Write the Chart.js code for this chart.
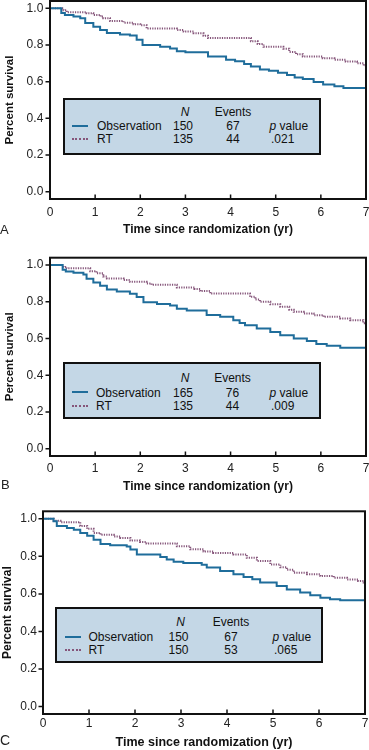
<!DOCTYPE html>
<html lang="en">
<head>
<meta charset="UTF-8">
<title>Survival curves</title>
<script src="https://cdn.jsdelivr.net/npm/chart.js"></script>
<style>
  body { margin: 0; background: #fff; font-family: "Liberation Sans", Arial, sans-serif; }
  #page { position: relative; width: 369px; height: 750px; overflow: hidden; }
  #page canvas { position: absolute; left: 0; }
  .legend { position: absolute; background: #c4d7e6; border: 2px solid #111; box-sizing: border-box; }
  .lt { position: absolute; font-size: 12px; line-height: 14px; color: #111; white-space: nowrap; }
  .sample { position: absolute; height: 0; }
  .letter { position: absolute; color: #222; line-height: 15px; }
</style>
</head>
<body>
<div id="page">
  <canvas id="chartA" width="369" height="250" style="top:0"></canvas>
  <canvas id="chartB" width="369" height="250" style="top:250px"></canvas>
  <canvas id="chartC" width="369" height="250" style="top:500px"></canvas>
</div>
<script>
// axis ticks
const xTicks = [0, 1, 2, 3, 4, 5, 6, 7];
const yTicks = [0, 0.2, 0.4, 0.6, 0.8, 1.0];

// panel A: time (yr) / survival
const obsA_t = [0, 0.25, 0.33, 0.52, 0.67, 0.78, 0.96, 1.11, 1.26, 1.55, 1.77, 1.92, 2.05, 2.44, 2.66, 2.81, 3.0, 3.5, 3.9, 4.1, 4.3, 4.45, 4.65, 4.85, 5.05, 5.25, 5.42, 5.6, 5.84, 6.05, 6.3, 6.5, 7.0];
const obsA_s = [1, 0.975, 0.964, 0.955, 0.946, 0.92, 0.90, 0.882, 0.865, 0.857, 0.852, 0.828, 0.80, 0.79, 0.781, 0.766, 0.76, 0.737, 0.72, 0.712, 0.697, 0.683, 0.667, 0.66, 0.648, 0.637, 0.623, 0.614, 0.598, 0.585, 0.575, 0.565, 0.565];
const rtA_t = [0, 0.3, 0.37, 0.81, 0.96, 1.12, 1.18, 1.33, 1.63, 1.85, 2.0, 2.14, 2.81, 2.96, 3.18, 3.4, 3.5, 4.45, 4.6, 4.73, 5.17, 5.3, 5.45, 5.6, 6.04, 6.3, 6.55, 6.8, 6.95, 7.0];
const rtA_s = [1, 0.99, 0.979, 0.973, 0.964, 0.955, 0.946, 0.931, 0.922, 0.913, 0.908, 0.89, 0.882, 0.873, 0.864, 0.85, 0.838, 0.82, 0.805, 0.79, 0.78, 0.762, 0.75, 0.737, 0.728, 0.72, 0.71, 0.70, 0.688, 0.68];

// panel B
const obsB_t = [0, 0.28, 0.35, 0.52, 0.74, 0.81, 0.96, 1.11, 1.26, 1.48, 1.77, 1.92, 2.07, 2.37, 2.66, 2.81, 3.03, 3.47, 3.77, 4.06, 4.2, 4.32, 4.58, 4.88, 5.1, 5.4, 5.69, 5.9, 6.13, 6.43, 7.0];
const obsB_s = [1, 0.975, 0.965, 0.958, 0.948, 0.925, 0.905, 0.887, 0.867, 0.856, 0.844, 0.826, 0.797, 0.788, 0.779, 0.762, 0.752, 0.728, 0.718, 0.70, 0.685, 0.672, 0.655, 0.636, 0.618, 0.60, 0.586, 0.57, 0.56, 0.55, 0.55];
const rtB_t = [0, 0.3, 0.37, 0.89, 1.03, 1.18, 1.26, 1.63, 1.77, 2.14, 2.25, 2.81, 3.2, 3.33, 3.55, 4.43, 4.55, 4.65, 4.88, 5.1, 5.3, 5.4, 5.62, 5.84, 6.06, 6.43, 6.65, 6.94, 7.0];
const rtB_s = [1, 0.99, 0.982, 0.966, 0.955, 0.937, 0.927, 0.918, 0.909, 0.9, 0.893, 0.878, 0.87, 0.858, 0.845, 0.827, 0.812, 0.8, 0.786, 0.773, 0.757, 0.745, 0.736, 0.727, 0.718, 0.709, 0.70, 0.683, 0.678];

// panel C
const obsC_t = [0, 0.23, 0.3, 0.52, 0.67, 0.81, 0.96, 1.1, 1.25, 1.46, 1.82, 1.9, 2.04, 2.55, 2.69, 2.84, 3.05, 3.45, 3.56, 3.85, 4.14, 4.36, 4.55, 4.72, 5.08, 5.3, 5.59, 5.81, 6.03, 6.24, 6.46, 7.0];
const obsC_s = [1, 0.987, 0.962, 0.951, 0.942, 0.925, 0.91, 0.888, 0.866, 0.859, 0.853, 0.836, 0.81, 0.796, 0.783, 0.771, 0.765, 0.755, 0.74, 0.722, 0.704, 0.69, 0.678, 0.66, 0.642, 0.624, 0.607, 0.593, 0.58, 0.572, 0.566, 0.566];
const rtC_t = [0, 0.23, 0.38, 0.81, 0.96, 1.1, 1.25, 1.54, 1.68, 1.9, 2.11, 2.25, 2.91, 3.2, 3.49, 3.7, 4.14, 4.43, 4.65, 4.94, 5.16, 5.3, 5.45, 5.74, 6.03, 6.32, 6.61, 6.85, 6.97, 7.0];
const rtC_s = [1, 0.989, 0.982, 0.962, 0.947, 0.925, 0.915, 0.906, 0.898, 0.885, 0.876, 0.869, 0.854, 0.838, 0.826, 0.818, 0.81, 0.792, 0.775, 0.757, 0.742, 0.728, 0.713, 0.704, 0.695, 0.686, 0.677, 0.668, 0.66, 0.656];

// legend table
const groupNames = ['Observation', 'RT'];
const nA = [150, 135], eventsA = [67, 44], pA = '.021';
const nB = [165, 135], eventsB = [76, 44], pB = '.009';
const nC = [150, 150], eventsC = [67, 53], pC = '.065';

const BLUE = '#1f6d9b';
const PURPLE = '#85557a';
const FONT = '"Liberation Sans", Arial, sans-serif';

const panels = [
  { id: 'chartA', letter: 'A', top: 0, obs: [obsA_t, obsA_s], rt: [rtA_t, rtA_s], n: nA, ev: eventsA, p: pA,
    yW: 50, padTop: 1, padRight: 3, xH: 51, xTickPad: 6, yTickPad: 6.7,
    xTitle: { size: 12, pad: 13 }, yTitle: { size: 11.5, pad: 3 },
    box: [63, 97.7, 258, 57.3], rowY: [112, 125.7, 139], colX: [72, 97, 183, 233, 269.5],
    letterPos: [0, 221.6, 13] },
  { id: 'chartB', letter: 'B', top: 250, obs: [obsB_t, obsB_s], rt: [rtB_t, rtB_s], n: nB, ev: eventsB, p: pB,
    yW: 50, padTop: 7.7, padRight: 3, xH: 44, xTickPad: 5.7, yTickPad: 6.7,
    xTitle: { size: 12, pad: 6 }, yTitle: { size: 11.5, pad: 3 },
    box: [63, 361.7, 258, 57.6], rowY: [377.7, 392.3, 406], colX: [72, 96, 183, 232.5, 269.5],
    letterPos: [1, 477.4, 13] },
  { id: 'chartC', letter: 'C', top: 500, obs: [obsC_t, obsC_s], rt: [rtC_t, rtC_s], n: nC, ev: eventsC, p: pC,
    yW: 43, padTop: 11.3, padRight: 4, xH: 36, xTickPad: 2, yTickPad: 6,
    xTitle: { size: 12.5, pad: 0 }, yTitle: { size: 12, pad: 0 },
    box: [55, 607.3, 267.7, 56], rowY: [621.7, 636.7, 650], colX: [65, 88.5, 178.5, 231, 272.5],
    letterPos: [0, 733.4, 14] }
];

// black frame round the plot plus inward x ticks and outward y ticks
const framePlugin = {
  id: 'frame',
  afterDatasetsDraw(chart) {
    const { ctx, chartArea: a, scales: { x, y } } = chart;
    ctx.save();
    ctx.strokeStyle = '#111';
    ctx.lineWidth = 2;
    ctx.strokeRect(a.left, a.top, a.right - a.left, a.bottom - a.top);
    ctx.lineWidth = 1.5;
    ctx.beginPath();
    xTicks.forEach(v => {
      const px = x.getPixelForValue(v);
      ctx.moveTo(px, a.bottom);
      ctx.lineTo(px, a.bottom - 4.5);
    });
    yTicks.forEach(v => {
      const py = y.getPixelForValue(v);
      ctx.moveTo(a.left, py);
      ctx.lineTo(a.left - 4.5, py);
    });
    ctx.stroke();
    ctx.restore();
  }
};

function points(t, s) {
  return t.map((v, i) => ({ x: v, y: s[i] }));
}

const page = document.getElementById('page');

function addText(parent, html, x, y, center) {
  const el = document.createElement('div');
  el.className = 'lt';
  el.innerHTML = html;
  el.style.left = x + 'px';
  el.style.top = (y - 6.7) + 'px';
  if (center) el.style.transform = 'translateX(-50%)';
  parent.appendChild(el);
}

panels.forEach(p => {
  new Chart(document.getElementById(p.id), {
    type: 'line',
    data: {
      datasets: [
        { label: groupNames[0], data: points(p.obs[0], p.obs[1]), borderColor: BLUE, borderWidth: 2,
          stepped: 'before', pointRadius: 0, fill: false },
        { label: groupNames[1], data: points(p.rt[0], p.rt[1]), borderColor: PURPLE, borderWidth: 2,
          borderDash: [1.2, 1.2], stepped: 'before', pointRadius: 0, fill: false }
      ]
    },
    options: {
      responsive: false,
      animation: false,
      devicePixelRatio: 1,
      layout: { padding: { top: p.padTop, right: p.padRight, bottom: 0, left: 0 } },
      plugins: { legend: { display: false }, tooltip: { enabled: false } },
      scales: {
        x: {
          type: 'linear', min: 0, max: 7,
          grid: { display: false, drawTicks: false },
          border: { display: false },
          afterBuildTicks: s => { s.ticks = xTicks.map(v => ({ value: v })); },
          afterFit: s => { s.height = p.xH; s.paddingLeft = 0; s.paddingRight = 0; },
          ticks: { padding: p.xTickPad, color: '#222', font: { family: FONT, size: 12 }, maxRotation: 0 },
          title: { display: true, text: 'Time since randomization (yr)', color: '#111',
                   font: { family: FONT, size: p.xTitle.size, weight: 'bold' },
                   padding: { top: 0, bottom: p.xTitle.pad } }
        },
        y: {
          type: 'linear', min: -0.04, max: 1.04,
          grid: { display: false, drawTicks: false },
          border: { display: false },
          afterBuildTicks: s => { s.ticks = yTicks.map(v => ({ value: v })); },
          afterFit: s => { s.width = p.yW; s.paddingTop = 0; s.paddingBottom = 0; },
          ticks: { padding: p.yTickPad, color: '#222', font: { family: FONT, size: 12 },
                   callback: v => v.toFixed(1) },
          title: { display: true, text: 'Percent survival', color: '#111',
                   font: { family: FONT, size: p.yTitle.size, weight: 'bold' },
                   padding: { top: p.yTitle.pad, bottom: 0 } }
        }
      }
    },
    plugins: [framePlugin]
  });

  // legend box (HTML so the table stays real text)
  const [bx, by, bw, bh] = p.box;
  const box = document.createElement('div');
  box.className = 'legend';
  box.style.left = bx + 'px';
  box.style.top = by + 'px';
  box.style.width = bw + 'px';
  box.style.height = bh + 'px';
  page.appendChild(box);
  const ox = bx + 2, oy = by + 2;
  const [sx, lx, nx, ex, px] = p.colX.map(v => v - ox);
  const [hy, r1, r2] = p.rowY.map(v => v - oy);

  addText(box, '<i>N</i>', nx + 2, hy, true);
  addText(box, 'Events', ex, hy, true);
  [r1, r2].forEach((ry, i) => {
    const line = document.createElement('div');
    line.className = 'sample';
    line.style.left = sx + 'px';
    line.style.top = (ry - 1) + 'px';
    line.style.width = '16px';
    line.style.borderTop = i === 0 ? '2px solid ' + BLUE : '2px dotted ' + PURPLE;
    box.appendChild(line);
    addText(box, groupNames[i], lx, ry, false);
    addText(box, String(p.n[i]), nx, ry, true);
    addText(box, String(p.ev[i]), ex, ry, true);
  });
  addText(box, '<i>p</i> value', px, r1, false);
  addText(box, p.p, px + 1.5, r2, false);

  const letter = document.createElement('div');
  letter.className = 'letter';
  letter.textContent = p.letter;
  letter.style.left = p.letterPos[0] + 'px';
  letter.style.top = p.letterPos[1] + 'px';
  letter.style.fontSize = p.letterPos[2] + 'px';
  page.appendChild(letter);
});
</script>
</body>
</html>
